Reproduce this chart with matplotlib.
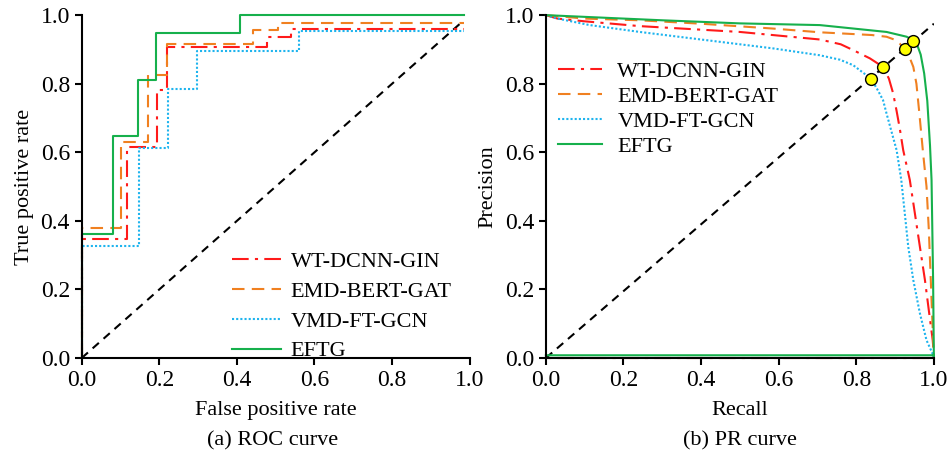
import matplotlib
matplotlib.use('Agg')
import matplotlib.pyplot as plt

plt.rcParams['font.family'] = ['Liberation Serif', 'DejaVu Serif']
plt.rcParams['font.size'] = 16

names = ['WT-DCNN-GIN', 'EMD-BERT-GAT', 'VMD-FT-GCN', 'EFTG']
colors = ['#FF1A1A', '#F08020', '#1EB4EE', '#16B04C']
styles = [(0, (8, 3, 1.5, 3)), (0, (6, 3.5)), (0, (1, 1)), '-']

#-------------------ROC curves (step corners)----------------------------#
roc_fpr_wt = [0, 0, 0.117, 0.117, 0.193, 0.193, 0.219, 0.219, 0.477, 0.477, 0.539, 0.539, 0.985]
roc_tpr_wt = [0, 0.347, 0.347, 0.616, 0.616, 0.783, 0.783, 0.908, 0.908, 0.935, 0.935, 0.961, 0.961]
roc_fpr_emd = [0, 0, 0.101, 0.101, 0.172, 0.172, 0.219, 0.219, 0.442, 0.442, 0.505, 0.505, 0.985]
roc_tpr_emd = [0, 0.38, 0.38, 0.629, 0.629, 0.826, 0.826, 0.917, 0.917, 0.956, 0.956, 0.976, 0.976]
roc_fpr_vmd = [0, 0, 0.148, 0.148, 0.223, 0.223, 0.296, 0.296, 0.561, 0.561, 0.985]
roc_tpr_vmd = [0, 0.327, 0.327, 0.613, 0.613, 0.786, 0.786, 0.896, 0.896, 0.954, 0.954]
roc_fpr_eftg = [0, 0, 0.080, 0.080, 0.145, 0.145, 0.191, 0.191, 0.408, 0.408, 0.985]
roc_tpr_eftg = [0, 0.363, 0.363, 0.648, 0.648, 0.81, 0.81, 0.947, 0.947, 1.0, 1.0]
roc_diag = [0, 0.985]

#-------------------PR curves----------------------------#
pr_rec_wt = [0, 0.03, 0.1, 0.242, 0.5, 0.706, 0.76, 0.792, 0.835, 0.869, 0.884, 0.895, 0.904,
             0.912, 0.921, 0.938, 0.951, 0.964, 0.977, 0.988, 0.997, 1.0, 1.0, 0]
pr_prec_wt = [1.0, 0.99, 0.982, 0.968, 0.951, 0.929, 0.915, 0.898, 0.874, 0.849, 0.815, 0.772,
              0.72, 0.67, 0.606, 0.519, 0.422, 0.324, 0.227, 0.13, 0.052, 0.009, 0.0, 0.0]
pr_rec_emd = [0, 0.1, 0.242, 0.4, 0.584, 0.706, 0.84, 0.878, 0.9, 0.912, 0.925, 0.938, 0.947,
              0.955, 0.962, 0.972, 0.981, 0.987, 0.992, 0.997, 1.0]
pr_prec_emd = [1.0, 0.99, 0.985, 0.975, 0.961, 0.95, 0.942, 0.937, 0.928, 0.917, 0.9, 0.875,
               0.849, 0.8, 0.72, 0.6, 0.5, 0.373, 0.227, 0.082, 0.0]
pr_rec_vmd = [0, 0.03, 0.113, 0.242, 0.414, 0.586, 0.706, 0.758, 0.792, 0.826, 0.839, 0.856,
              0.869, 0.878, 0.904, 0.916, 0.925, 0.934, 0.947, 0.964, 0.981, 0.998, 1.0]
pr_prec_vmd = [1.0, 0.99, 0.971, 0.951, 0.927, 0.903, 0.883, 0.87, 0.854, 0.825, 0.813, 0.78,
               0.752, 0.713, 0.606, 0.519, 0.422, 0.324, 0.227, 0.13, 0.052, 0.009, 0.0]
pr_rec_eftg = [0, 0.1, 0.3, 0.5, 0.706, 0.878, 0.93, 0.947, 0.958, 0.966, 0.975, 0.983, 0.99,
               0.994, 0.998, 1.0, 1.0, 0]
pr_prec_eftg = [1.0, 0.995, 0.985, 0.976, 0.971, 0.951, 0.937, 0.926, 0.91, 0.885, 0.83, 0.75,
                0.62, 0.519, 0.227, 0.0, 0.008, 0.008]
pr_diag_x = [0, 1.0]
pr_diag_y = [0, 0.975]
bep_x = [0.839, 0.869, 0.925, 0.947]
bep_y = [0.813, 0.849, 0.9, 0.926]

roc_data = [(roc_fpr_wt, roc_tpr_wt), (roc_fpr_emd, roc_tpr_emd),
            (roc_fpr_vmd, roc_tpr_vmd), (roc_fpr_eftg, roc_tpr_eftg)]
pr_data = [(pr_rec_wt, pr_prec_wt), (pr_rec_emd, pr_prec_emd),
           (pr_rec_vmd, pr_prec_vmd), (pr_rec_eftg, pr_prec_eftg)]


def style_axes(ax):
    ax.set_xlim(0, 1)
    ax.set_ylim(0, 1)
    ax.spines['top'].set_visible(False)
    ax.spines['right'].set_visible(False)
    for s in ['left', 'bottom']:
        ax.spines[s].set_linewidth(1.5)
    ax.tick_params(direction='out', length=5, width=1.5, labelsize=17)
    ax.set_xticks([0, 0.2, 0.4, 0.6, 0.8, 1.0])
    ax.set_yticks([0, 0.2, 0.4, 0.6, 0.8, 1.0])
    ax.xaxis.set_major_formatter(plt.FormatStrFormatter('%.1f'))
    ax.yaxis.set_major_formatter(plt.FormatStrFormatter('%.1f'))


fig = plt.figure(figsize=(9.51, 4.59), dpi=100)
ax1 = fig.add_axes([0.0859, 0.220, 0.408, 0.747])
ax2 = fig.add_axes([0.574, 0.220, 0.408, 0.747])

# ROC
ax1.plot(roc_diag, roc_diag, color='black', ls=(0, (4, 3)), lw=1.5)
for (x, y), n, c, s in zip(roc_data, names, colors, styles):
    ax1.plot(x, y, color=c, ls=s, lw=1.5, label=n, clip_on=False)
style_axes(ax1)
ax1.set_xlabel('False positive rate', labelpad=7)
ax1.set_ylabel('True positive rate', labelpad=5)
ax1.legend(loc='lower left', bbox_to_anchor=(0.387, -0.01), frameon=False,
           borderpad=0, borderaxespad=0, handlelength=2.2, handletextpad=0.45,
           labelspacing=0.42, fontsize=16)

# PR
ax2.plot(pr_diag_x, pr_diag_y, color='black', ls=(0, (4, 3)), lw=1.5)
for (x, y), n, c, s in zip(pr_data, names, colors, styles):
    ax2.plot(x, y, color=c, ls=s, lw=1.5, label=n, clip_on=False)
ax2.plot(bep_x, bep_y, 'o', color='#FFFF00', mec='black', mew=1, ms=8.5, zorder=5)
style_axes(ax2)
ax2.set_xlabel('Recall', labelpad=7)
ax2.set_ylabel('Precision', labelpad=5)
ax2.legend(loc='upper left', bbox_to_anchor=(0.031, 0.865), frameon=False,
           borderpad=0, borderaxespad=0, handlelength=2.0, handletextpad=0.68,
           labelspacing=0.2, fontsize=16)

fig.text(0.287, 0.04, '(a) ROC curve', ha='center', va='center', fontsize=16)
fig.text(0.778, 0.04, '(b) PR curve', ha='center', va='center', fontsize=16)

fig.savefig('out.png', dpi=100)
